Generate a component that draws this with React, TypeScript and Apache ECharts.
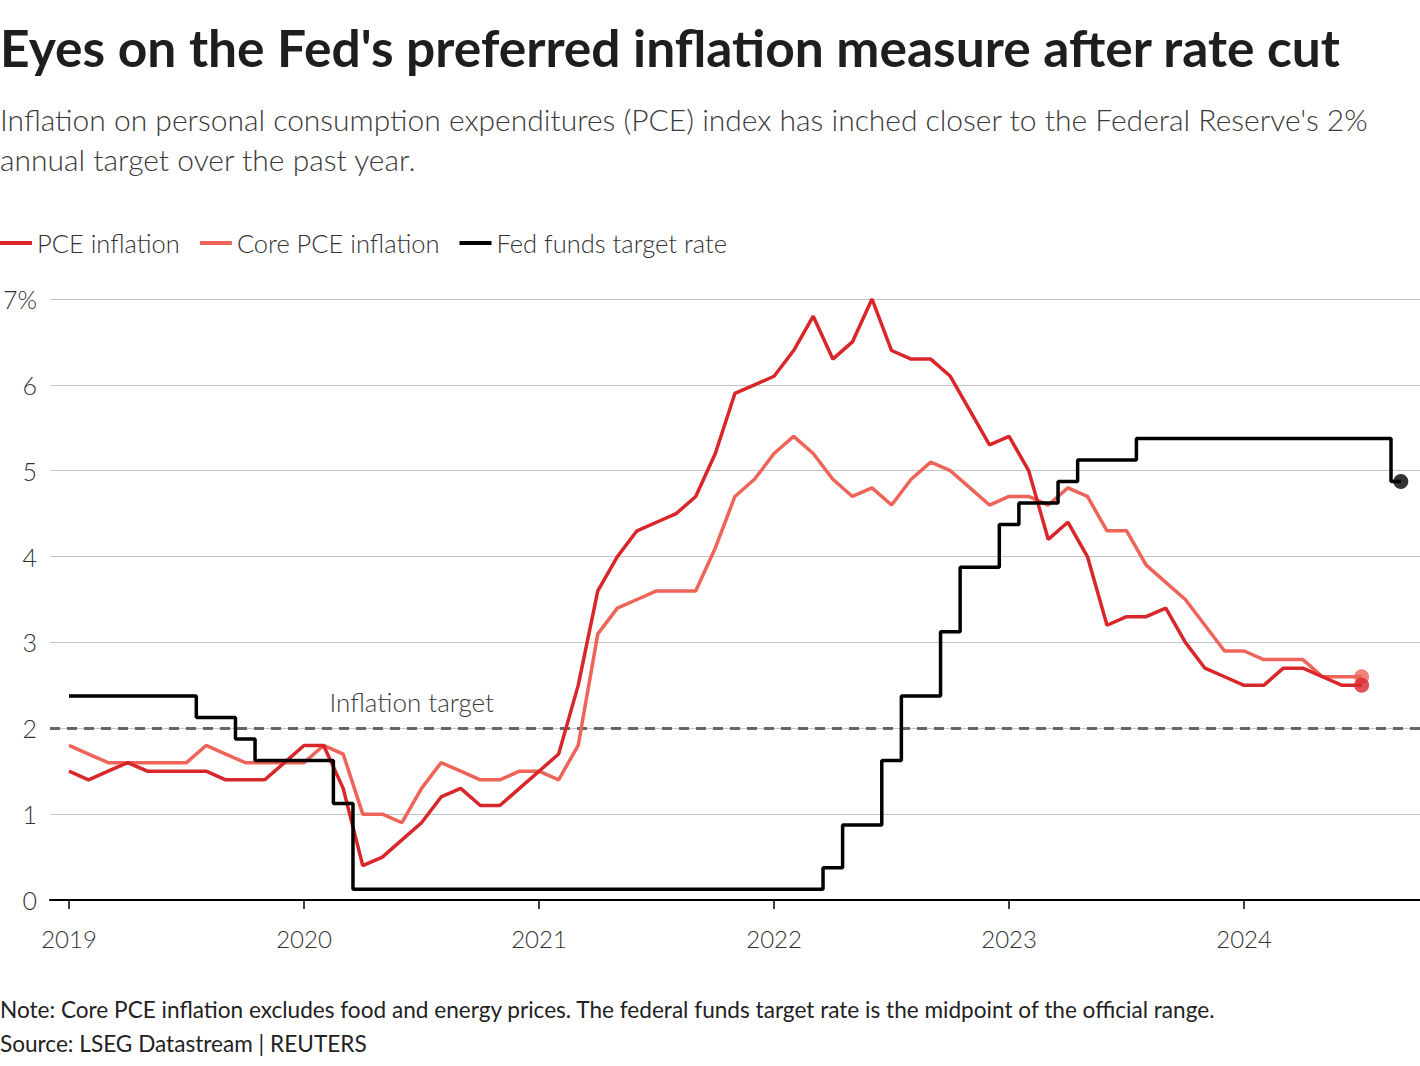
import React, { useEffect, useRef } from "react";
import * as echarts from "echarts";

const START_YEAR = 2019;
const YEAR_TICKS = [2019, 2020, 2021, 2022, 2023, 2024];
const Y_TICKS = [0, 1, 2, 3, 4, 5, 6, 7];

// Monthly values starting Jan 2019
const pceInflation = [
  1.5, 1.4, 1.5, 1.6, 1.5, 1.5, 1.5, 1.5, 1.4, 1.4, 1.4, 1.6,
  1.8, 1.8, 1.3, 0.4, 0.5, 0.7, 0.9, 1.2, 1.3, 1.1, 1.1, 1.3,
  1.5, 1.7, 2.5, 3.6, 4.0, 4.3, 4.4, 4.5, 4.7, 5.2, 5.9, 6.0,
  6.1, 6.4, 6.8, 6.3, 6.5, 7.0, 6.4, 6.3, 6.3, 6.1, 5.7, 5.3,
  5.4, 5.0, 4.2, 4.4, 4.0, 3.2, 3.3, 3.3, 3.4, 3.0, 2.7, 2.6,
  2.5, 2.5, 2.7, 2.7, 2.6, 2.5, 2.5,
];

const corePceInflation = [
  1.8, 1.7, 1.6, 1.6, 1.6, 1.6, 1.6, 1.8, 1.7, 1.6, 1.6, 1.6,
  1.6, 1.8, 1.7, 1.0, 1.0, 0.9, 1.3, 1.6, 1.5, 1.4, 1.4, 1.5,
  1.5, 1.4, 1.8, 3.1, 3.4, 3.5, 3.6, 3.6, 3.6, 4.1, 4.7, 4.9,
  5.2, 5.4, 5.2, 4.9, 4.7, 4.8, 4.6, 4.9, 5.1, 5.0, 4.8, 4.6,
  4.7, 4.7, 4.6, 4.8, 4.7, 4.3, 4.3, 3.9, 3.7, 3.5, 3.2, 2.9,
  2.9, 2.8, 2.8, 2.8, 2.6, 2.6, 2.6,
];

// Fed funds target rate, midpoint of range, monthly from Jan 2019 to Sep 2024
const fedFundsRate = [
  2.375, 2.375, 2.375, 2.375, 2.375, 2.375, 2.375, 2.125, 2.125, 1.875, 1.625, 1.625,
  1.625, 1.625, 1.125, 0.125, 0.125, 0.125, 0.125, 0.125, 0.125, 0.125, 0.125, 0.125,
  0.125, 0.125, 0.125, 0.125, 0.125, 0.125, 0.125, 0.125, 0.125, 0.125, 0.125, 0.125,
  0.125, 0.125, 0.125, 0.375, 0.875, 0.875, 1.625, 2.375, 2.375, 3.125, 3.875, 3.875,
  4.375, 4.625, 4.625, 4.875, 5.125, 5.125, 5.125, 5.375, 5.375, 5.375, 5.375, 5.375,
  5.375, 5.375, 5.375, 5.375, 5.375, 5.375, 5.375, 5.375, 4.875,
];

const INFLATION_TARGET = 2;

const TITLE = "Eyes on the Fed's preferred inflation measure after rate cut";
const SUBTITLE_1 =
  "Inflation on personal consumption expenditures (PCE) index has inched closer to the Federal Reserve's 2%";
const SUBTITLE_2 = "annual target over the past year.";
const NOTE =
  "Note: Core PCE inflation excludes food and energy prices. The federal funds target rate is the midpoint of the official range.";
const SOURCE = "Source: LSEG Datastream | REUTERS";

const FONT = "Lato, 'Noto Sans', sans-serif";
const PCE_COLOR = "#d8262b";
const CORE_COLOR = "#ef6459";
const FED_COLOR = "#000000";

const toPairs = (arr: number[]) => arr.map((v, i) => [i, v]);
const lastPair = (arr: number[]) => [arr.length - 1, arr[arr.length - 1]];

export default function App() {
  const ref = useRef<HTMLDivElement>(null);

  useEffect(() => {
    document.body.style.margin = "0";
    if (!ref.current) return;
    const chart = echarts.init(ref.current, undefined, { renderer: "svg" });
    const yearValues = YEAR_TICKS.map((y) => (y - START_YEAR) * 12);

    chart.setOption({
      animation: false,
      backgroundColor: "#ffffff",
      textStyle: { fontFamily: FONT },
      graphic: [
        {
          type: "text",
          left: 0,
          top: 21,
          style: {
            text: TITLE,
            font: `bold 51.5px ${FONT}`,
            fill: "#1e1e1e",
          },
        },
        {
          type: "text",
          left: 0,
          top: 99,
          style: {
            text: SUBTITLE_1 + "\n" + SUBTITLE_2,
            font: `300 30px ${FONT}`,
            lineHeight: 40,
            fill: "#3a3a3a",
          },
        },
        {
          type: "text",
          left: 0,
          top: 992,
          style: {
            text: NOTE + "\n" + SOURCE,
            font: `22.6px ${FONT}`,
            lineHeight: 34,
            fill: "#222222",
          },
        },
      ],
      legend: {
        left: 0,
        top: 230,
        padding: 0,
        icon: "rect",
        itemWidth: 32,
        itemHeight: 4,
        itemGap: 20,
        data: ["PCE inflation", "Core PCE inflation", "Fed funds target rate"],
        textStyle: { fontSize: 25.5, color: "#333", fontWeight: 300, fontFamily: FONT },
        selectedMode: false,
      },
      grid: { left: 49, right: 0, top: 299, bottom: 166 },
      xAxis: {
        type: "value",
        min: -0.97,
        max: 68.98,
        axisLine: { show: true, lineStyle: { color: "#000", width: 2 } },
        axisTick: {
          show: true,
          customValues: yearValues,
          length: 9,
          lineStyle: { color: "#000", width: 1.5 },
        },
        axisLabel: {
          customValues: yearValues,
          formatter: (v: number) => String(START_YEAR + Math.round(v / 12)),
          margin: 26,
          fontSize: 24,
          color: "#333",
          fontWeight: 300,
        },
        splitLine: { show: false },
      },
      yAxis: {
        type: "value",
        min: 0,
        max: 7,
        interval: 1,
        axisLine: { show: false },
        axisTick: { show: false },
        axisLabel: {
          formatter: (v: number) => (v === Y_TICKS[Y_TICKS.length - 1] ? `${v}%` : String(v)),
          margin: 13,
          fontSize: 25,
          color: "#333",
          fontWeight: 300,
        },
        splitLine: { show: true, lineStyle: { color: "#c4c4c4", width: 1 } },
      },
      series: [
        {
          name: "Core PCE inflation",
          type: "line",
          data: toPairs(corePceInflation),
          symbol: "none",
          lineStyle: { color: CORE_COLOR, width: 3.5 },
          itemStyle: { color: CORE_COLOR },
          z: 3,
          markLine: {
            silent: true,
            symbol: "none",
            lineStyle: { type: [10, 7], color: "#666666", width: 3 },
            label: { show: false },
            data: [{ yAxis: INFLATION_TARGET }],
            z: 2,
          },
          markPoint: {
            silent: true,
            symbol: "circle",
            symbolSize: 0,
            data: [{ coord: [17.5, INFLATION_TARGET] }],
            label: {
              show: true,
              position: "top",
              distance: 13,
              formatter: "Inflation target",
              fontSize: 26,
              fontWeight: 300,
              color: "#3a3a3a",
            },
          },
        },
        {
          name: "PCE inflation",
          type: "line",
          data: toPairs(pceInflation),
          symbol: "none",
          lineStyle: { color: PCE_COLOR, width: 3.5 },
          itemStyle: { color: PCE_COLOR },
          z: 4,
        },
        {
          name: "Fed funds target rate",
          type: "line",
          step: "middle",
          data: toPairs(fedFundsRate),
          symbol: "none",
          lineStyle: { color: FED_COLOR, width: 3.5 },
          itemStyle: { color: FED_COLOR },
          z: 5,
        },
        {
          name: "core-end",
          type: "scatter",
          data: [lastPair(corePceInflation)],
          symbolSize: 15,
          itemStyle: { color: CORE_COLOR },
          z: 6,
        },
        {
          name: "pce-end",
          type: "scatter",
          data: [lastPair(pceInflation)],
          symbolSize: 15,
          itemStyle: { color: PCE_COLOR },
          z: 7,
        },
        {
          name: "fed-end",
          type: "scatter",
          data: [lastPair(fedFundsRate)],
          symbolSize: 15,
          itemStyle: { color: FED_COLOR },
          z: 7,
        },
      ],
    });

    return () => chart.dispose();
  }, []);

  return <div ref={ref} style={{ width: 1420, height: 1066 }} />;
}
